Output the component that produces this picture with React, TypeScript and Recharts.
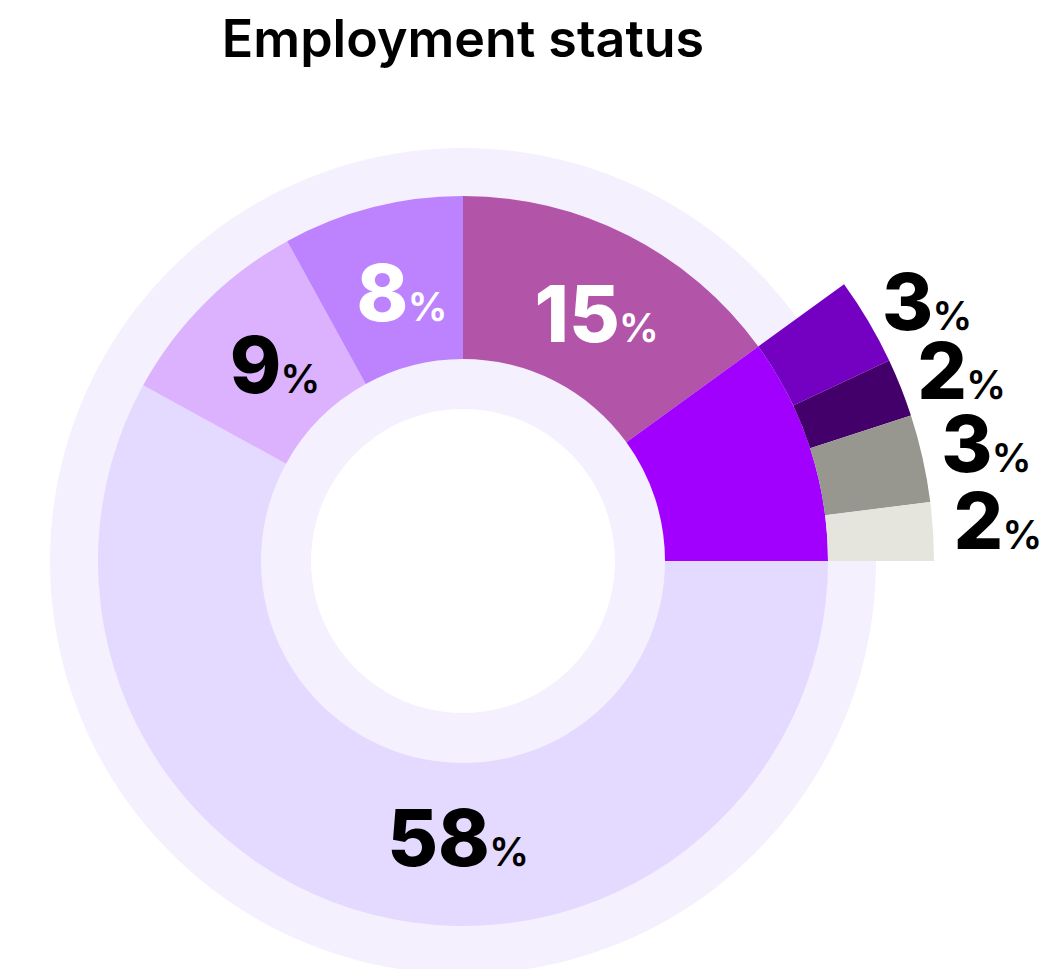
import React from 'react';
import { PieChart, Pie, Cell } from 'recharts';

// main ring, clockwise from 3 o'clock
const mainCategories = ['Group A', 'Group B', 'Group C', 'Group D', 'Group E'];
const mainValues = [58, 9, 8, 15];
// breakdown of the last main slice, shown as an outer ring
const breakdownCategories = ['E1', 'E2', 'E3', 'E4'];
const breakdownValues = [3, 2, 3, 2];

const breakdownTotal = breakdownValues.reduce((a, b) => a + b, 0);
const mainData = [...mainValues, breakdownTotal].map((value, i) => ({ name: mainCategories[i], value }));
const breakdownData = breakdownValues.map((value, i) => ({ name: breakdownCategories[i], value }));
const grandTotal = mainData.reduce((a, d) => a + d.value, 0);

const mainColors = ['#e4d9fe', '#dcb2fe', '#bd82fe', '#b254a7', '#a100ff'];
const mainLabelColors = ['#000', '#000', '#fff', '#fff', null];
const breakdownColors = ['#7400c2', '#44006a', '#979790', '#e5e5dd'];

const RAD = Math.PI / 180;
const CX = 463;
const CY = 561;
const FONT = 'Inter, "Noto Sans", sans-serif';

const PctText = ({ x, y, value, color, anchor }: any) => (
  <text x={x} y={y} textAnchor={anchor} fill={color} fontFamily={FONT}>
    <tspan fontSize={78} fontWeight={800}>{value}</tspan>
    <tspan fontSize={40} fontWeight={600} dx={-1}>%</tspan>
  </text>
);

const mainLabel = (props: any) => {
  const { cx, cy, midAngle, index, value } = props;
  if (!mainLabelColors[index]) return null;
  // the big slice gets its label at the bottom
  const big = value / grandTotal > 0.5;
  const angle = big ? -91 : midAngle;
  const r = 277;
  const x = cx + r * Math.cos(-angle * RAD) + (big ? 0 : 8);
  const y = cy + r * Math.sin(-angle * RAD);
  return <PctText key={index} x={x} y={y + 28} value={value} color={mainLabelColors[index]} anchor="middle" />;
};

const breakdownLabel = (props: any) => {
  const { cx, cy, midAngle, index, value } = props;
  const r = 492;
  const a = midAngle + 1;
  const x = cx + r * Math.cos(-a * RAD);
  const y = cy + r * Math.sin(-a * RAD);
  return <PctText key={index} x={x} y={y + 27} value={value} color="#000" anchor="start" />;
};

export default function App() {
  const breakdownSpan = (360 * breakdownTotal) / grandTotal;
  return (
    <div style={{ position: 'absolute', left: 0, top: 0, width: 1057, height: 969, background: '#fff', overflow: 'hidden' }}>
      <svg width={1057} height={90} style={{ position: 'absolute', left: 0, top: 0 }}>
        <text x={CX} y={57} textAnchor="middle" fontFamily={FONT} fontSize={52} fontWeight={600} fill="#000">
          Employment status
        </text>
      </svg>
      <div style={{ position: 'absolute', left: 0, top: 0 }}>
        <PieChart width={1057} height={969} margin={{ top: 0, right: 0, bottom: 0, left: 0 }}>
          <Pie
            data={[{ name: 'bg', value: 1 }]}
            dataKey="value"
            cx={CX}
            cy={CY}
            innerRadius={152}
            outerRadius={413}
            fill="#f4f0fe"
            stroke="none"
            isAnimationActive={false}
          />
          <Pie
            data={mainData}
            dataKey="value"
            cx={CX}
            cy={CY}
            startAngle={0}
            endAngle={-360}
            innerRadius={202}
            outerRadius={365}
            stroke="none"
            label={mainLabel}
            labelLine={false}
            isAnimationActive={false}
          >
            {mainData.map((d, i) => (
              <Cell key={d.name} fill={mainColors[i]} />
            ))}
          </Pie>
          <Pie
            data={breakdownData}
            dataKey="value"
            cx={CX}
            cy={CY}
            startAngle={breakdownSpan}
            endAngle={0}
            innerRadius={365}
            outerRadius={471}
            stroke="none"
            label={breakdownLabel}
            labelLine={false}
            isAnimationActive={false}
          >
            {breakdownData.map((d, i) => (
              <Cell key={d.name} fill={breakdownColors[i]} />
            ))}
          </Pie>
        </PieChart>
      </div>
    </div>
  );
}
